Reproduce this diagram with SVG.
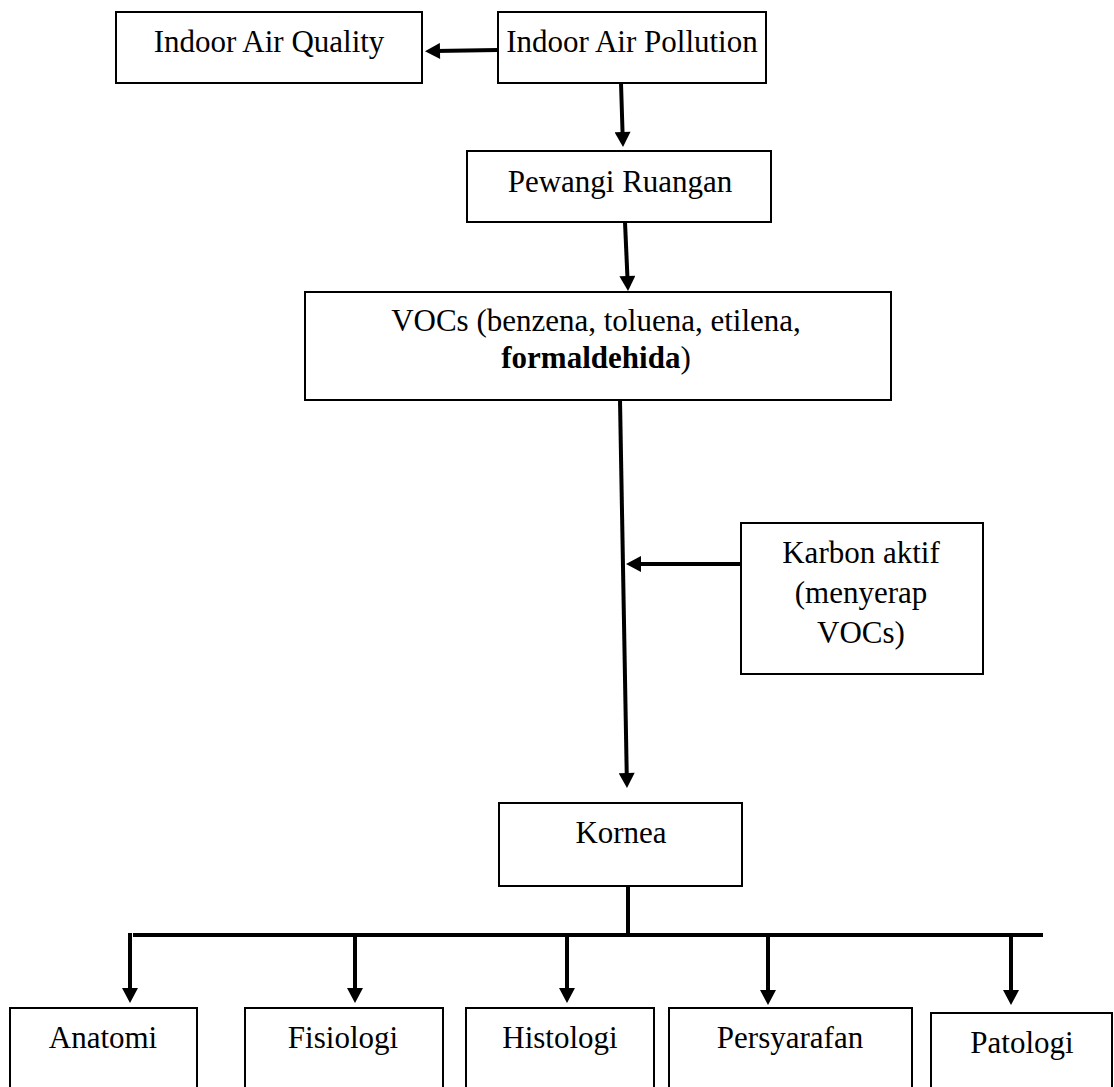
<svg xmlns="http://www.w3.org/2000/svg" width="1114" height="1087" viewBox="0 0 1114 1087">
<style>
.box{fill:#fff;stroke:#000;stroke-width:2}
.t{font-family:"Liberation Serif","Times New Roman",serif;font-size:31px;fill:#000;text-anchor:middle}
.c{fill:none;stroke:#000;stroke-width:4}
.a{fill:none;stroke:#000;stroke-width:4;marker-end:url(#ah)}
</style>
<defs>
<marker id="ah" markerUnits="userSpaceOnUse" markerWidth="16" markerHeight="16" refX="5" refY="8" orient="auto" viewBox="0 0 15 16">
<path d="M0,0 L15,8 L0,16 z" fill="#000"/>
</marker>
</defs>
<rect width="1114" height="1087" fill="#fff"/>
<g id="connectors">
<line class="a" x1="498" y1="50" x2="435" y2="51"/>
<line class="a" x1="621" y1="83" x2="622.7" y2="137"/>
<line class="a" x1="625" y1="222" x2="627.6" y2="281"/>
<line class="a" x1="620" y1="400" x2="626.8" y2="778"/>
<line class="a" x1="741" y1="564" x2="636" y2="564"/>
<line class="c" x1="628" y1="886" x2="628" y2="935"/>
<line class="c" x1="133" y1="935" x2="1043" y2="935"/>
<line class="a" x1="130" y1="933" x2="130" y2="993"/>
<line class="a" x1="355" y1="935" x2="355" y2="993"/>
<line class="a" x1="567" y1="935" x2="567" y2="993"/>
<line class="a" x1="768" y1="935" x2="768" y2="995"/>
<line class="a" x1="1011" y1="935" x2="1011" y2="995"/>
</g>
<g id="iaq">
<rect class="box" x="116" y="12" width="306" height="71"/>
<text class="t" x="269" y="52">Indoor Air Quality</text>
</g>
<g id="iap">
<rect class="box" x="498" y="12" width="268" height="71"/>
<text class="t" x="632" y="52">Indoor Air Pollution</text>
</g>
<g id="pewangi">
<rect class="box" x="467" y="151" width="304" height="71"/>
<text class="t" x="620" y="192">Pewangi Ruangan</text>
</g>
<g id="vocs">
<rect class="box" x="305" y="292" width="586" height="108"/>
<text class="t" x="596" y="331">VOCs (benzena, toluena, etilena,</text>
<text class="t" x="596" y="368"><tspan font-weight="bold">formaldehida</tspan>)</text>
</g>
<g id="karbon">
<rect class="box" x="741" y="523" width="242" height="151"/>
<text class="t" x="861" y="563">Karbon aktif</text>
<text class="t" x="861" y="603">(menyerap</text>
<text class="t" x="861" y="643">VOCs)</text>
</g>
<g id="kornea">
<rect class="box" x="499" y="803" width="243" height="83"/>
<text class="t" x="621" y="843">Kornea</text>
</g>
<g id="anatomi">
<rect class="box" x="10" y="1008" width="187" height="100"/>
<text class="t" x="103" y="1048">Anatomi</text>
</g>
<g id="fisiologi">
<rect class="box" x="245" y="1008" width="198" height="100"/>
<text class="t" x="343" y="1048">Fisiologi</text>
</g>
<g id="histologi">
<rect class="box" x="466" y="1008" width="188" height="100"/>
<text class="t" x="560" y="1048">Histologi</text>
</g>
<g id="persyarafan">
<rect class="box" x="669" y="1008" width="243" height="100"/>
<text class="t" x="790" y="1048">Persyarafan</text>
</g>
<g id="patologi">
<rect class="box" x="931" y="1013" width="181" height="100"/>
<text class="t" x="1022" y="1053">Patologi</text>
</g>
</svg>
